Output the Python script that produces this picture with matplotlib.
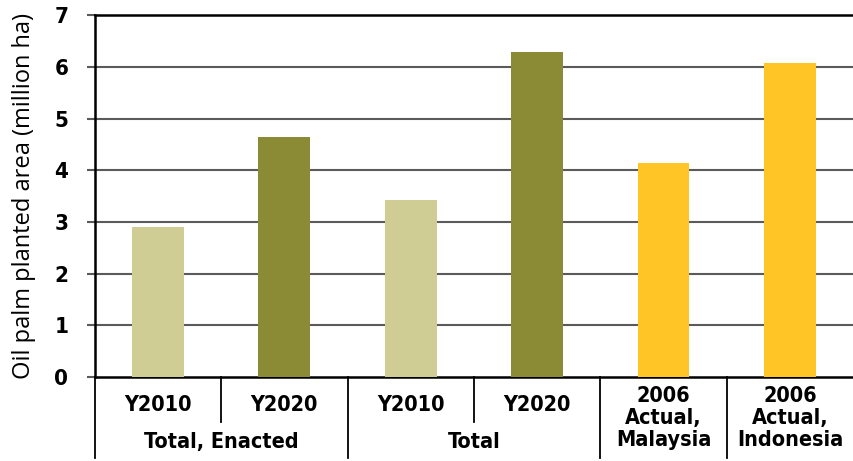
import matplotlib.pyplot as plt
import matplotlib.transforms as mtransforms

# data
labels = ['Y2010', 'Y2020', 'Y2010', 'Y2020', '2006\nActual,\nMalaysia', '2006\nActual,\nIndonesia']
values = [2.9, 4.65, 3.43, 6.28, 4.15, 6.07]
groups = ['Total, Enacted', 'Total']
colors = ['#CFCD93', '#8B8B36', '#CFCD93', '#8B8B36', '#FFC425', '#FFC425']

bold = dict(family='DejaVu Sans', fontstretch='condensed', fontweight='bold', fontsize=15.5)

fig = plt.figure(figsize=(8.54, 4.61), dpi=100)
ax = fig.add_axes([0.111, 0.182, 0.888, 0.785])

x = list(range(len(values)))
ax.bar(x, values, width=0.41, color=colors, zorder=3)
ax.set_xlim(-0.5, len(values) - 0.5)
ax.set_ylim(0, 7)

# grid
for v in range(1, 7):
    ax.axhline(v, color='#5a5a5a', lw=1.5, zorder=1)
ax.spines['right'].set_visible(False)
for s in ['left', 'bottom', 'top']:
    ax.spines[s].set_color('black')
    ax.spines[s].set_linewidth(1.8)

ax.set_yticks(range(0, 8))
ax.tick_params(axis='y', direction='out', length=6, width=1.5, color='#5a5a5a', pad=13)
for t in ax.get_yticklabels():
    t.set_fontfamily('DejaVu Sans')
    t.set_fontstretch('condensed')
    t.set_fontweight('bold')
    t.set_fontsize(16)
ax.set_xticks([])

ax.set_ylabel('Oil palm planted area (million ha)', family=['Open Sans', 'DejaVu Sans'],
              fontsize=17)
ax.yaxis.set_label_coords(-0.078, 0.5)

# category labels below the axis
trans = mtransforms.blended_transform_factory(ax.transData, ax.transAxes)
for i, lab in enumerate(labels):
    if '\n' in lab:
        ax.text(i, -0.113, lab, transform=trans, ha='center', va='center',
                linespacing=1.1, **bold)
    else:
        ax.text(i, -0.077, lab, transform=trans, ha='center', va='center', **bold)

for g, name in enumerate(groups):
    ax.text(2 * g + 0.5, -0.18, name, transform=trans, ha='center', va='center', **bold)

# separators
for xs in [0.5, 2.5]:
    ax.plot([xs, xs], [0, -0.124], transform=trans, color='black', lw=1.3, clip_on=False)
for xs in [-0.5, 1.5, 3.5, 4.5]:
    ax.plot([xs, xs], [0, -0.224], transform=trans, color='black', lw=1.3, clip_on=False)

fig.savefig('out.png', dpi=100)
